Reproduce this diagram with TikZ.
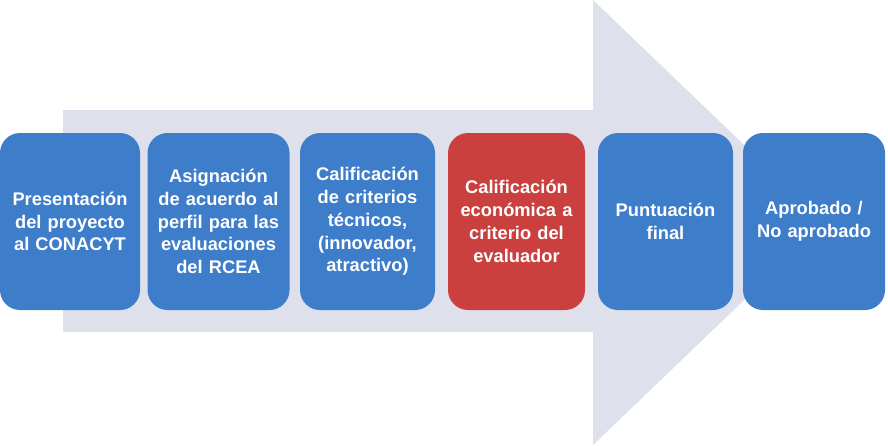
\documentclass[tikz,border=0pt]{standalone}
\usepackage{fontspec}
\setmainfont{Liberation Sans}
\definecolor{arrowbg}{HTML}{DEE1EC}
\definecolor{boxblue}{HTML}{3E7DCA}
\definecolor{boxred}{HTML}{C9403E}
\tikzset{
  stepbox/.style={rounded corners=20pt, minimum width=138pt, minimum height=177pt,
    text width=132pt, inner sep=0pt, align=center, text=white,
    font=\bfseries\fontsize{18.3}{22.8}\selectfont,
    fill=boxblue},
  redbox/.style={stepbox, fill=boxred}
}
\begin{document}
\begin{tikzpicture}[x=1pt,y=-1pt]
\useasboundingbox (0,0) rectangle (888,445);
\fill[arrowbg] (63,110) -- (593,110) -- (593,0) -- (825,222.5) -- (593,445) -- (593,332) -- (63,332) -- cycle;
\node[stepbox, minimum width=140pt] (s1) at (70,221.5) {Presentación\\del proyecto\\al CONACYT};
\node[stepbox, minimum width=142pt] (s2) at (218.5,221.5) {Asignación\\de acuerdo al\\perfil para las\\evaluaciones\\del RCEA};
\node[stepbox, minimum width=135pt] (s3) at (367.5,221.5) {Calificación\\de criterios\\técnicos,\\(innovador,\\atractivo)};
\node[redbox, minimum width=137pt] (s4) at (516.5,221.5) {Calificación\\económica a\\criterio del\\evaluador};
\node[stepbox, minimum width=135pt] (s5) at (665.5,221.5) {Puntuación\\final};
\node[stepbox, minimum width=142pt] (s6) at (814,221.5) {Aprobado /\\No aprobado};
\end{tikzpicture}
\end{document}
